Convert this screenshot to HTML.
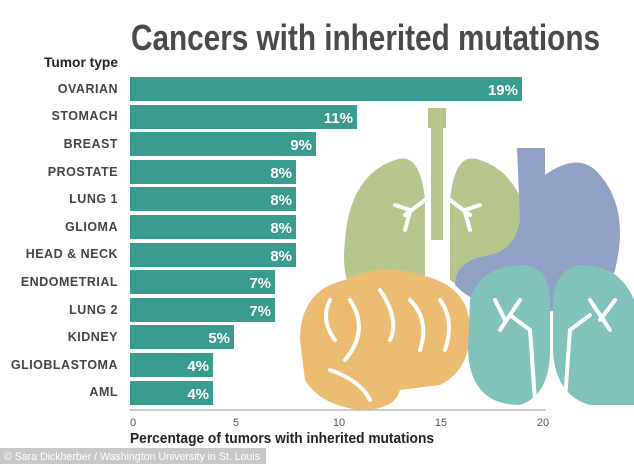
<!DOCTYPE html><html><head><style>
body{margin:0;width:634px;height:464px;background:#fff;overflow:hidden;font-family:"Liberation Sans",sans-serif;position:relative}
</style></head><body>
<svg width="634" height="464" style="position:absolute;left:0;top:0">
<g opacity="0.85">
<rect x="428" y="108" width="18" height="20" fill="#a9bb78"/>
<rect x="431" y="120" width="12" height="120" fill="#a9bb78"/>
<path d="M395 160 Q350 175 345 240 Q340 285 360 300 Q400 300 425 280 L425 200 Q420 150 395 160Z" fill="#a9bb78"/>
<path d="M480 160 Q525 175 530 240 Q535 285 515 300 Q475 300 450 280 L450 200 Q455 150 480 160Z" fill="#a9bb78"/>
<path d="M517 148 L545 148 L545 175 Q580 150 600 175 Q630 210 615 270 Q600 310 540 312 Q480 312 455 285 Q455 260 490 255 Q515 250 520 220Z" fill="#7e91bb"/>
<path d="M300 340 Q300 290 345 280 Q380 262 420 275 Q470 285 470 330 Q470 370 440 385 L400 390 Q395 410 360 410 Q320 405 305 380Z" fill="#e8b05a"/>
<path d="M470 300 Q480 265 525 265 Q550 270 550 300 L550 350 Q550 395 520 405 Q470 405 468 350Z" fill="#6cb8ae"/>
<path d="M634 300 Q620 265 580 265 Q555 270 553 300 L553 350 Q555 395 590 405 L634 405Z" fill="#6cb8ae"/>
</g>
<g fill="none" stroke="#fff" stroke-width="4" stroke-linecap="round">
<path d="M425 200 L405 215 M410 210 L395 205 M410 212 L405 230"/>
<path d="M450 200 L470 215 M465 210 L480 205 M465 212 L470 230"/>
<path d="M330 300 Q320 320 335 340 M350 300 Q370 330 345 360 M380 290 Q400 320 390 340 M410 300 Q430 320 420 350 M440 300 Q455 320 445 350 M330 370 Q360 380 370 400"/>
<path d="M520 300 L500 330 M505 320 L495 300 M510 315 L530 330 L535 400 M590 300 L610 330 M600 320 L615 300 M590 315 L570 330 L565 400"/>
</g>
</svg>
<svg width="634" height="464" style="position:absolute;left:0;top:0;font-family:'Liberation Sans',sans-serif">
<text x="131" y="50" font-size="36" font-weight="bold" fill="#4a4a4a" textLength="469" lengthAdjust="spacingAndGlyphs">Cancers with inherited mutations</text>
<text x="44" y="67" font-size="14" font-weight="bold" fill="#222" textLength="74" lengthAdjust="spacingAndGlyphs">Tumor type</text>
<g font-size="12.5" font-weight="bold" fill="#444" text-anchor="end" letter-spacing="0.5">
<text x="118" y="93">OVARIAN</text><text x="118" y="120">STOMACH</text><text x="118" y="148">BREAST</text><text x="118" y="176">PROSTATE</text><text x="118" y="203">LUNG 1</text><text x="118" y="231">GLIOMA</text><text x="118" y="258">HEAD &amp; NECK</text><text x="118" y="286">ENDOMETRIAL</text><text x="118" y="314">LUNG 2</text><text x="118" y="341">KIDNEY</text><text x="118" y="369">GLIOBLASTOMA</text><text x="118" y="396">AML</text>
</g>
<g fill="#3a9b8f">
<rect x="130" y="77" width="392" height="24"/><rect x="130" y="105" width="227" height="24"/><rect x="130" y="132" width="186" height="24"/><rect x="130" y="160" width="166" height="24"/><rect x="130" y="187" width="166" height="24"/><rect x="130" y="215" width="166" height="24"/><rect x="130" y="243" width="166" height="24"/><rect x="130" y="270" width="145" height="24"/><rect x="130" y="298" width="145" height="24"/><rect x="130" y="325" width="104" height="24"/><rect x="130" y="353" width="83" height="24"/><rect x="130" y="381" width="83" height="24"/>
</g>
<g fill="#fff" font-size="15" font-weight="bold" text-anchor="end">
<text x="518" y="95">19%</text><text x="353" y="123">11%</text><text x="312" y="150">9%</text><text x="292" y="178">8%</text><text x="292" y="205">8%</text><text x="292" y="233">8%</text><text x="292" y="261">8%</text><text x="271" y="288">7%</text><text x="271" y="316">7%</text><text x="230" y="343">5%</text><text x="209" y="371">4%</text><text x="209" y="399">4%</text>
</g>
<line x1="130" y1="410" x2="546" y2="410" stroke="#bbb" stroke-width="1.5"/>
<g font-size="11" fill="#555" text-anchor="middle"><text x="133" y="426">0</text><text x="236" y="426">5</text><text x="339" y="426">10</text><text x="441" y="426">15</text><text x="543" y="426">20</text></g>
<text x="130" y="443" font-size="14.5" font-weight="bold" fill="#222" textLength="304" lengthAdjust="spacingAndGlyphs">Percentage of tumors with inherited mutations</text>
<rect x="0" y="448" width="266" height="16" fill="#c8c8c8"/>
<text x="4" y="460" font-size="11" fill="#fff" textLength="256" lengthAdjust="spacingAndGlyphs">© Sara Dickherber / Washington University in St. Louis</text>
</svg>
</body></html>
